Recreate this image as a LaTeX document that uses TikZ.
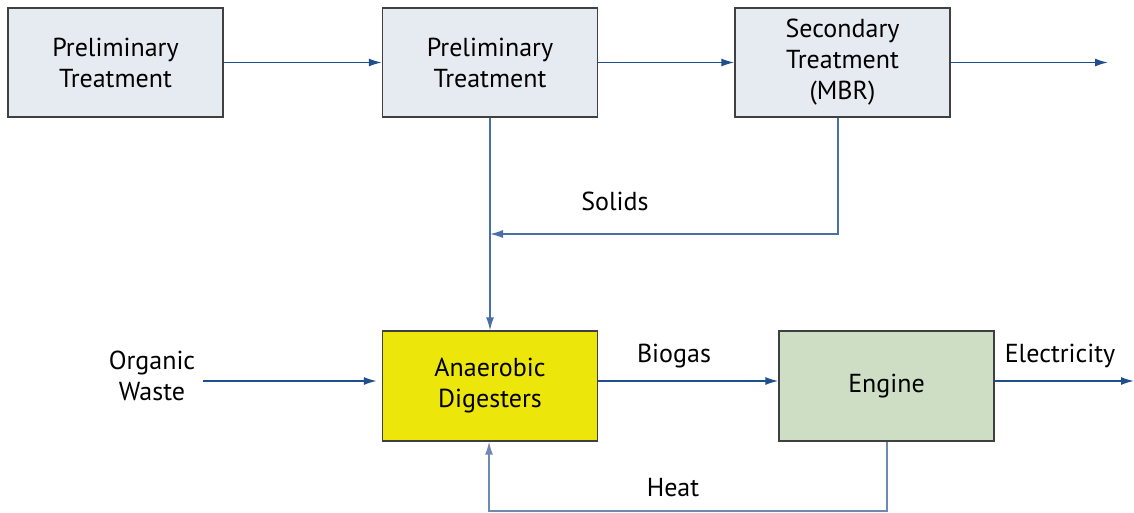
\documentclass[tikz,border=0pt]{standalone}
\usepackage{fontspec}
\setmainfont{PT Sans}
\usetikzlibrary{arrows.meta}
\definecolor{boxgray}{HTML}{E6EAF1}
\definecolor{boxyellow}{HTML}{EDE60A}
\definecolor{boxgreen}{HTML}{CDDEC5}
\definecolor{arrdark}{HTML}{1F4E8C}
\definecolor{arrlight}{HTML}{4A6FA8}
\definecolor{arrpale}{HTML}{7089B3}
\tikzset{
  procbox/.style={draw=black!75, line width=1.3pt, minimum width=215pt, minimum height=109pt, align=center, inner sep=0pt, font=\fontsize{26}{31}\selectfont},
  lbl/.style={align=center, inner sep=0pt, font=\fontsize{26}{31}\selectfont},
  flow/.style={draw=arrdark, line width=1.6pt, -{Latex[length=13pt,width=8pt]}},
  flowl/.style={draw=arrlight, line width=1.4pt, -{Latex[length=13pt,width=8pt]}},
  flowp/.style={draw=arrpale, line width=1.4pt, -{Latex[length=13pt,width=8pt]}},
}
\begin{document}
\begin{tikzpicture}[x=1pt,y=-1pt]
\useasboundingbox (0,0) rectangle (1134,512);
\node[procbox, fill=boxgray] (p1) at (115.5,62.5) {Preliminary\\Treatment};
\node[procbox, fill=boxgray] (p2) at (490,62.5) {Preliminary\\Treatment};
\node[procbox, fill=boxgray] (p3) at (842.5,62.5) {Secondary\\Treatment\\(MBR)};
\node[procbox, fill=boxyellow, minimum height=110pt] (ad) at (490,386) {Anaerobic\\Digesters};
\node[procbox, fill=boxgreen, minimum height=110pt] (en) at (886.5,386) {Engine};
\coordinate (out1) at (1108,62.5);
\coordinate (out2) at (1134,381);
\coordinate (solj) at (490,234);
\coordinate (sol3) at (838,234);
\coordinate (heat1) at (887,511);
\coordinate (heat2) at (489,511);
\node[lbl] (ow) at (152,376) {Organic\\Waste};
\coordinate (owend) at (203,381);
\node[lbl] (solids) at (615,201) {Solids};
\node[lbl] (biogas) at (674,356) {Biogas};
\node[lbl] (elec) at (1060,356) {Electricity};
\node[lbl] (heat) at (673,488) {Heat};

\draw[flow] (p1.east) -- (p2.west);
\draw[flow] (p2.east) -- (p3.west);
\draw[flow] (p3.east) -- (out1);
\draw[flowl] (p2.south) -- (ad.north);
\draw[flowl] (p3.south -| sol3) -- (sol3) -- (solj);
\draw[flow] (owend) -- ([xshift=-5pt]ad.west |- owend);
\draw[flow] (ad.east |- 0,381) -- (en.west |- 0,381);
\draw[flow] (en.east |- 0,381) -- (out2);
\draw[flowp] (en.south -| heat1) -- (heat1) -- (heat2) -- (heat2 |- ad.south);
\end{tikzpicture}
\end{document}
